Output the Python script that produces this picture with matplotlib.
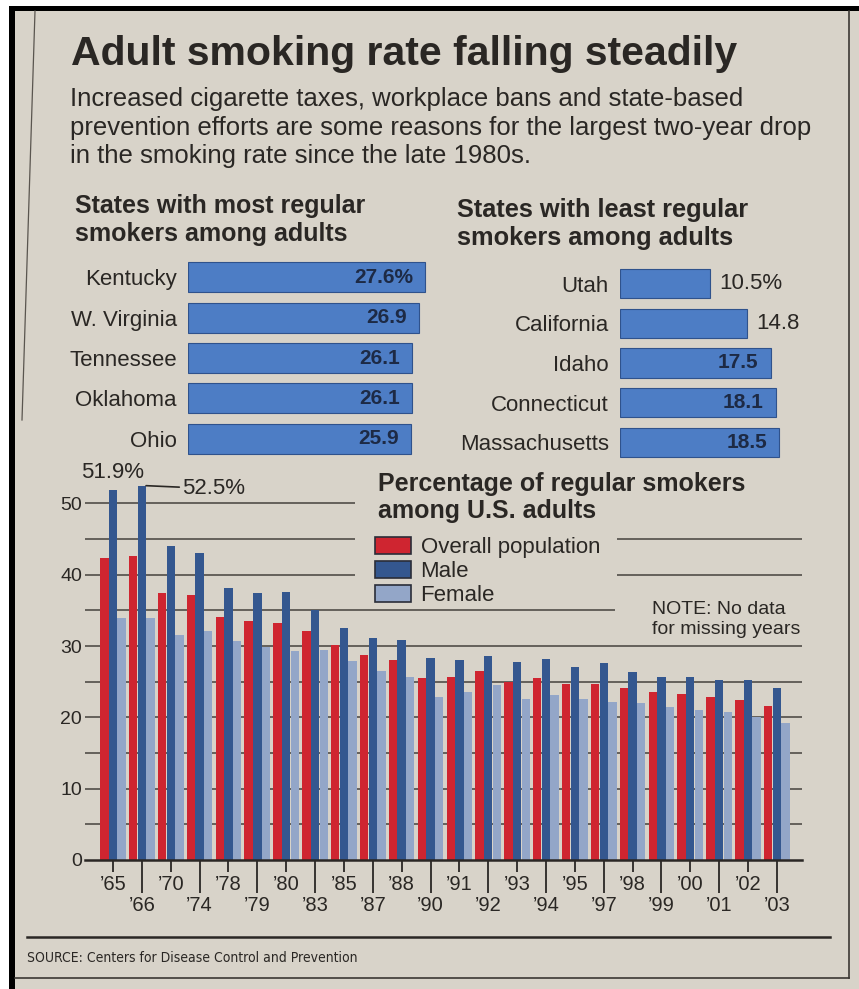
import matplotlib
matplotlib.use("Agg")
import matplotlib.pyplot as plt
from matplotlib.patches import Rectangle
import numpy as np

# picture size in pixels, everything below is laid out in these units
W, H = 859, 989

PAPER = "#d8d3c9"
INK = "#2a2724"
BAR_BLUE = "#4d7dc5"
RED = "#cf2530"
NAVY = "#34578f"
LIGHT = "#93a6c8"

REGULAR = ["Liberation Sans", "DejaVu Sans"]

# --- data ---
most_states = ["Kentucky", "W. Virginia", "Tennessee", "Oklahoma", "Ohio"]
most_rates = [27.6, 26.9, 26.1, 26.1, 25.9]

least_states = ["Utah", "California", "Idaho", "Connecticut", "Massachusetts"]
least_rates = [10.5, 14.8, 17.5, 18.1, 18.5]

year_labels = ["’65", "’66", "’70", "’74", "’78", "’79", "’80", "’83", "’85", "’87",
               "’88", "’90", "’91", "’92", "’93", "’94", "’95", "’97", "’98", "’99",
               "’00", "’01", "’02", "’03"]
overall = [42.4, 42.6, 37.4, 37.1, 34.1, 33.5, 33.2, 32.1, 30.1, 28.8, 28.1, 25.5,
           25.6, 26.5, 25.0, 25.5, 24.7, 24.7, 24.1, 23.5, 23.3, 22.8, 22.5, 21.6]
male = [51.9, 52.5, 44.1, 43.1, 38.1, 37.5, 37.6, 35.1, 32.6, 31.2, 30.8, 28.4,
        28.1, 28.6, 27.7, 28.2, 27.0, 27.6, 26.4, 25.7, 25.7, 25.2, 25.2, 24.1]
female = [33.9, 33.9, 31.5, 32.1, 30.7, 29.9, 29.3, 29.5, 27.9, 26.5, 25.7, 22.8,
          23.5, 24.6, 22.6, 23.1, 22.6, 22.1, 22.0, 21.5, 21.0, 20.7, 20.0, 19.2]

subtitle = ["Increased cigarette taxes, workplace bans and state-based",
            "prevention efforts are some reasons for the largest two-year drop",
            "in the smoking rate since the late 1980s."]


def px_axes(x0, y0, x1, y1):
    ax = fig.add_axes([x0 / W, 1 - y1 / H, (x1 - x0) / W, (y1 - y0) / H])
    ax.patch.set_alpha(0)
    return ax


def lines(x, y0, dy, texts, **kw):
    # one text per line so every baseline sits where it should
    for i, t in enumerate(texts):
        bg.text(x, y0 + i * dy, t, va="baseline", family=REGULAR, color=INK, **kw)


fig = plt.figure(figsize=(W / 100, H / 100), dpi=100)
fig.patch.set_facecolor(PAPER)

# background axes in pixel coordinates for frame and free text
bg = fig.add_axes([0, 0, 1, 1])
bg.set_xlim(0, W)
bg.set_ylim(H, 0)
bg.axis("off")

bg.add_patch(Rectangle((0, 0), W, 6, color="white", lw=0))
bg.add_patch(Rectangle((0, 0), 9, H, color="white", lw=0))
bg.add_patch(Rectangle((9, 6), W, 5, color="black", lw=0))
bg.add_patch(Rectangle((9, 6), 6, H, color="black", lw=0))
bg.plot([849, 849], [11, 978], color="#3b3733", lw=1.2)
bg.plot([15, 849], [978, 978], color="#3b3733", lw=1.2)
bg.plot([35, 22], [11, 420], color="#5a554f", lw=0.9)
bg.plot([27, 830], [937, 937], color=INK, lw=1.8)

# headline and intro
bg.text(71, 65, "Adult smoking rate falling steadily", fontsize=29.5, fontweight="bold",
        family=REGULAR, color=INK, va="baseline")
lines(70, 106, 28.5, subtitle, fontsize=18.5)

lines(75, 213, 28, ["States with most regular", "smokers among adults"],
      fontsize=18, fontweight="bold")
lines(457, 217, 28, ["States with least regular", "smokers among adults"],
      fontsize=18.3, fontweight="bold")

lines(378, 491, 27, ["Percentage of regular smokers", "among U.S. adults"],
      fontsize=18, fontweight="bold")
lines(652, 614, 19.5, ["NOTE: No data", "for missing years"], fontsize=14)
bg.text(27, 962, "SOURCE: Centers for Disease Control and Prevention", fontsize=10,
        family=["DejaVu Sans"], fontstretch="condensed", color=INK, va="baseline")


# --- state bar charts ---
def state_bars(ax, names, vals, xmax):
    pos = np.arange(len(vals))
    ax.barh(pos, vals, height=0.74, color=BAR_BLUE, edgecolor="#2f528c", lw=0.8)
    ax.set_yticks(pos, names)
    ax.set_ylim(len(vals) - 0.5, -0.5)
    ax.set_xlim(0, xmax)
    ax.set_xticks([])
    for s in ax.spines.values():
        s.set_visible(False)
    ax.tick_params(axis="y", length=0, pad=8, labelsize=16, labelcolor=INK)
    for lab in ax.get_yticklabels():
        lab.set_family(REGULAR)
    for i, v in enumerate(vals):
        txt = f"{v}%" if i == 0 else f"{v}"
        if v < 16:
            ax.annotate(txt, (v, i), xytext=(9, 0), textcoords="offset pixels",
                        ha="left", va="center", fontsize=16, color=INK,
                        family=REGULAR)
        else:
            ax.annotate(txt, (v, i), xytext=(-12, 0), textcoords="offset pixels",
                        ha="right", va="center", fontsize=15, fontweight="bold",
                        color="#1d2a45", family=REGULAR)


ax1 = px_axes(188, 257, 446, 459)
state_bars(ax1, most_states, most_rates, 30)
ax2 = px_axes(620, 264, 835, 462)
state_bars(ax2, least_states, least_rates, 25)

# --- yearly grouped bars ---
ax = px_axes(85, 460, 802, 860)
xlo, xhi = -0.97, 23.87
x = np.arange(len(year_labels))
bw = 0.29
b1 = ax.bar(x - 0.3, overall, bw, color=RED, zorder=2, label="Overall population")
b2 = ax.bar(x, male, bw, color=NAVY, zorder=2, label="Male")
b3 = ax.bar(x + 0.3, female, bw, color=LIGHT, zorder=2, label="Female")
ax.set_xlim(xlo, xhi)
ax.set_ylim(0, 56.1)

# gridlines, broken around the key and the note
for v in range(5, 55, 5):
    if v <= 30:
        segs = [(xlo, xhi)]
    elif v == 35:
        segs = [(xlo, 17.39)]
    elif v in (40, 45):
        segs = [(xlo, 8.38), (17.46, xhi)]
    else:
        segs = [(xlo, 8.38)]
    for a, b in segs:
        ax.hlines(v, a, b, color="#45413d", lw=1.1, zorder=1)

for s in ["top", "right", "left"]:
    ax.spines[s].set_visible(False)
ax.spines["bottom"].set_color(INK)
ax.spines["bottom"].set_linewidth(1.8)

ax.set_yticks(range(0, 60, 10))
ax.tick_params(axis="y", length=0, pad=2, labelsize=14, labelcolor=INK)
ax.set_xticks(x[::2], year_labels[::2])
ax.set_xticks(x[1::2], year_labels[1::2], minor=True)
ax.tick_params(axis="x", which="major", length=8.6, width=1.3, pad=2,
               labelsize=14.5, color=INK, labelcolor=INK)
ax.tick_params(axis="x", which="minor", length=24, width=1.3, pad=2,
               labelsize=14.5, color=INK, labelcolor=INK)
for lab in ax.get_xticklabels(which="both") + ax.get_yticklabels():
    lab.set_family(REGULAR)

ax.annotate(f"{male[0]}%", (0, male[0]), xytext=(0, 7), textcoords="offset pixels",
            ha="center", va="bottom", fontsize=16, color=INK, family=REGULAR)
ax.annotate(f"{male[1]}%", (1 + bw / 2, male[1]), xytext=(36, -3),
            textcoords="offset pixels", ha="left", va="center", fontsize=16,
            color=INK, family=REGULAR,
            arrowprops=dict(arrowstyle="-", color=INK, lw=1.2,
                            shrinkA=0, shrinkB=0))

leg = ax.legend(handles=[b1, b2, b3], loc="upper left",
                bbox_to_anchor=(375 / W, 1 - 537 / H), bbox_transform=fig.transFigure,
                frameon=False, handlelength=1.6, handleheight=0.8,
                handletextpad=0.45, labelspacing=0.12, borderpad=0, borderaxespad=0,
                prop={"family": REGULAR, "size": 16})
for t in leg.get_texts():
    t.set_color(INK)
for p in leg.get_patches():
    p.set_edgecolor("#2a2d38")
    p.set_linewidth(1.2)

fig.savefig("out.png", dpi=100, facecolor=fig.get_facecolor())
